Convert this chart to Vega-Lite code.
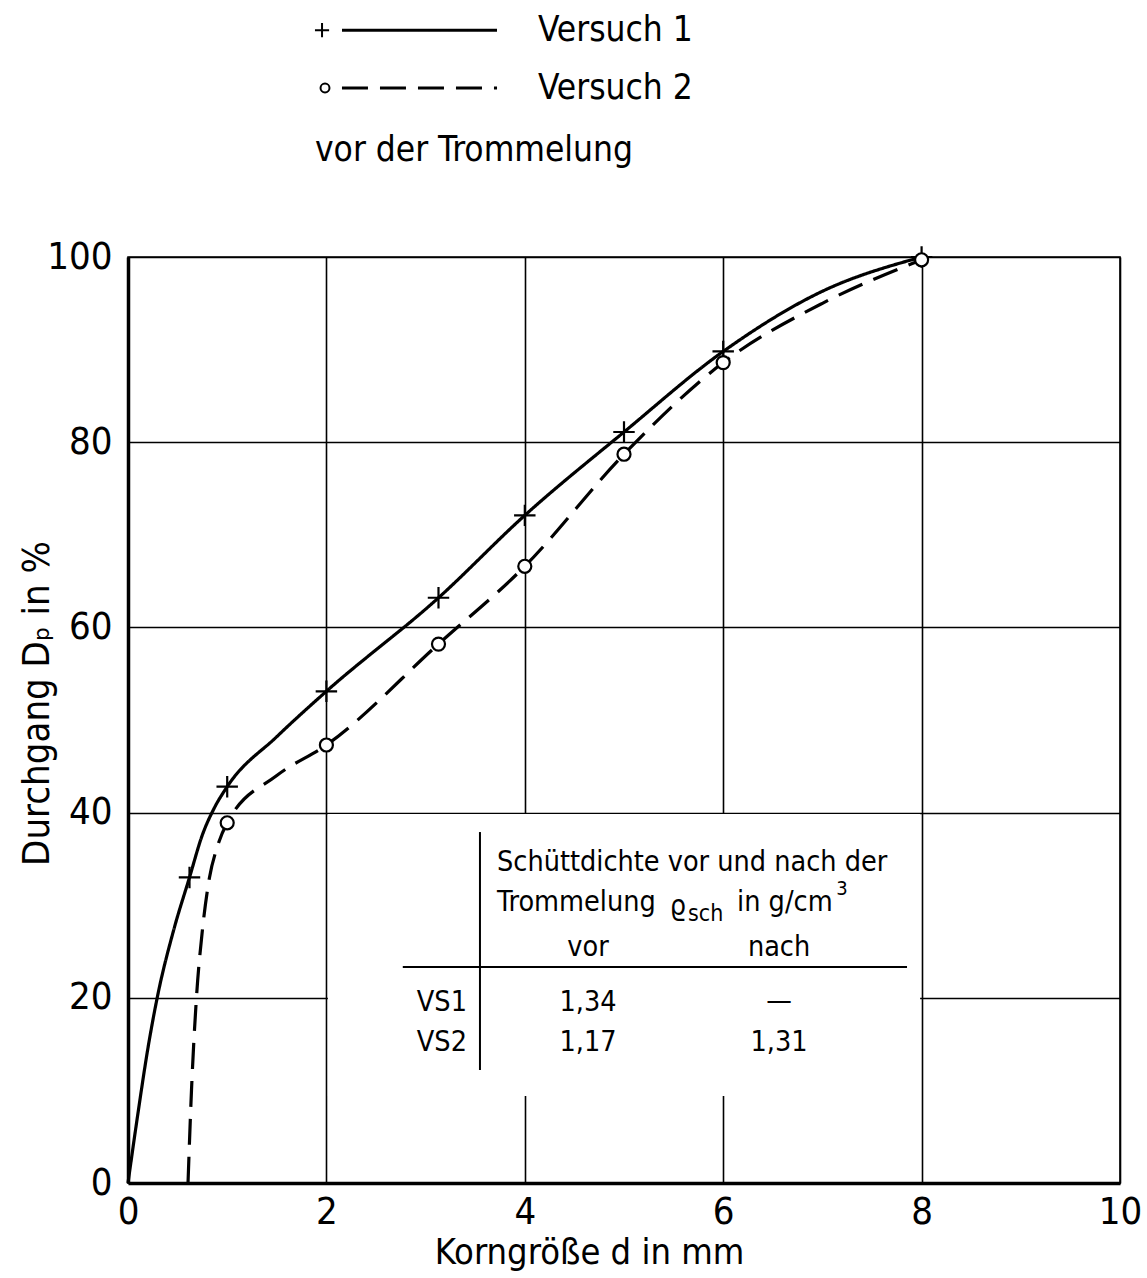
{
  "$schema": "https://vega.github.io/schema/vega-lite/v6.json",
  "width": 992,
  "height": 926,
  "autosize": {"type": "none"},
  "padding": {"left": 128, "top": 257, "right": 27, "bottom": 95},
  "background": "white",
  "config": {
    "view": {"stroke": "black", "strokeWidth": 1.6},
    "font": "DejaVu Sans Condensed, sans-serif",
    "axis": {
      "grid": true, "gridColor": "black", "gridWidth": 1.6, "gridOpacity": 1,
      "domain": true, "domainColor": "black", "domainWidth": 3.5,
      "ticks": false, "tickSize": 0,
      "labelFont": "DejaVu Sans Condensed, sans-serif",
      "labelFontSize": 38, "labelColor": "black", "labelFlush": false, "labelOverlap": false,
      "titleFont": "DejaVu Sans Condensed, sans-serif",
      "titleFontSize": 36, "titleFontWeight": "normal", "titleColor": "black"
    }
  },
  "datasets": {
    "curves": [
      {"s": "Versuch 1", "x": 0, "y": 0, "m": 0},
      {"s": "Versuch 1", "x": 0.1, "y": 7.5, "m": 0},
      {"s": "Versuch 1", "x": 0.2, "y": 14.5, "m": 0},
      {"s": "Versuch 1", "x": 0.3, "y": 20.3, "m": 0},
      {"s": "Versuch 1", "x": 0.46, "y": 27.3, "m": 0},
      {"s": "Versuch 1", "x": 0.62, "y": 33, "m": 1},
      {"s": "Versuch 1", "x": 0.75, "y": 37.6, "m": 0},
      {"s": "Versuch 1", "x": 0.87, "y": 40.5, "m": 0},
      {"s": "Versuch 1", "x": 1.0, "y": 42.8, "m": 1},
      {"s": "Versuch 1", "x": 1.5, "y": 48.2, "m": 0},
      {"s": "Versuch 1", "x": 2.0, "y": 53.1, "m": 1},
      {"s": "Versuch 1", "x": 3.13, "y": 63.2, "m": 1},
      {"s": "Versuch 1", "x": 4.0, "y": 72.1, "m": 1},
      {"s": "Versuch 1", "x": 5.0, "y": 81.1, "m": 1},
      {"s": "Versuch 1", "x": 6.0, "y": 89.8, "m": 1},
      {"s": "Versuch 1", "x": 7.0, "y": 96.3, "m": 0},
      {"s": "Versuch 1", "x": 8.0, "y": 100, "m": 1},
      {"s": "Versuch 2", "x": 0.605, "y": 0, "m": 0},
      {"s": "Versuch 2", "x": 0.64, "y": 10, "m": 0},
      {"s": "Versuch 2", "x": 0.69, "y": 20, "m": 0},
      {"s": "Versuch 2", "x": 0.75, "y": 27.3, "m": 0},
      {"s": "Versuch 2", "x": 0.82, "y": 32.9, "m": 0},
      {"s": "Versuch 2", "x": 0.9, "y": 36.3, "m": 0},
      {"s": "Versuch 2", "x": 1.0, "y": 38.9, "m": 1},
      {"s": "Versuch 2", "x": 1.5, "y": 44.0, "m": 0},
      {"s": "Versuch 2", "x": 2.0, "y": 47.3, "m": 1},
      {"s": "Versuch 2", "x": 3.13, "y": 58.2, "m": 1},
      {"s": "Versuch 2", "x": 4.0, "y": 66.6, "m": 1},
      {"s": "Versuch 2", "x": 5.0, "y": 78.7, "m": 1},
      {"s": "Versuch 2", "x": 6.0, "y": 88.6, "m": 1},
      {"s": "Versuch 2", "x": 7.0, "y": 95.0, "m": 0},
      {"s": "Versuch 2", "x": 8.0, "y": 99.7, "m": 1}
    ],
    "box": [{"x": 2.015, "x2": 7.985, "y": 9.4, "y2": 39.85}],
    "tablerules": [
      {"x": 3.548, "x2": 3.548, "y": 12.2, "y2": 37.9},
      {"x": 2.77, "x2": 7.853, "y": 23.33, "y2": 23.33}
    ],
    "tablecenter": [
      {"x": 4.637, "y": 25.49, "t": "vor"},
      {"x": 6.563, "y": 25.49, "t": "nach"},
      {"x": 4.637, "y": 19.55, "t": "1,34"},
      {"x": 6.563, "y": 19.7, "t": "—"},
      {"x": 4.637, "y": 15.23, "t": "1,17"},
      {"x": 6.563, "y": 15.23, "t": "1,31"}
    ],
    "tableleft": [
      {"x": 3.72, "y": 34.67, "t": "Schüttdichte vor und nach der"},
      {"x": 3.72, "y": 30.35, "t": "Trommelung"},
      {"x": 5.46, "y": 29.9, "t": "ϱ"},
      {"x": 6.14, "y": 30.35, "t": "in g/cm"}
    ],
    "tableright": [
      {"x": 3.417, "y": 19.55, "t": "VS1"},
      {"x": 3.417, "y": 15.23, "t": "VS2"}
    ],
    "tablesub": [{"x": 5.645, "y": 29.05, "t": "sch"}],
    "tablesup": [{"x": 7.14, "y": 31.75, "t": "3"}],
    "legendlines": [
      {"s": "Versuch 1", "x": 2.157, "x2": 3.72, "y": 124.5},
      {"s": "Versuch 2", "x": 2.157, "x2": 3.72, "y": 118.25}
    ],
    "legendplus": [{"x": 1.956, "y": 124.5}],
    "legendcircle": [{"x": 1.986, "y": 118.25}],
    "legendtext": [
      {"x": 4.133, "y": 124.5, "t": "Versuch 1"},
      {"x": 4.133, "y": 118.25, "t": "Versuch 2"},
      {"x": 1.885, "y": 111.55, "t": "vor der Trommelung"}
    ]
  },
  "encoding": {
    "x": {
      "field": "x", "type": "quantitative",
      "scale": {"domain": [0, 10], "nice": false, "zero": false},
      "axis": {
        "values": [0, 2, 4, 6, 8, 10], "title": "Korngröße d in mm",
        "labelPadding": 10, "titleX": 461, "titleY": 69,
        "titleBaseline": "middle", "titleAlign": "center"
      }
    },
    "y": {
      "field": "y", "type": "quantitative",
      "scale": {"domain": [0, 100], "nice": false, "zero": false},
      "axis": {
        "values": [0, 20, 40, 60, 80, 100], "title": "Durchgang Dₚ in %",
        "labelPadding": 16, "titleX": -91, "titleY": 446, "titleAngle": -90,
        "titleFontSize": 38,
        "titleBaseline": "middle", "titleAlign": "center"
      }
    }
  },
  "layer": [
    {
      "data": {"name": "box"},
      "mark": {"type": "rect", "fill": "white", "stroke": null},
      "encoding": {"x2": {"field": "x2"}, "y2": {"field": "y2"}}
    },
    {
      "data": {"name": "tablerules"},
      "mark": {"type": "rule", "color": "black", "strokeWidth": 2},
      "encoding": {"x2": {"field": "x2"}, "y2": {"field": "y2"}}
    },
    {
      "data": {"name": "tablecenter"},
      "mark": {"type": "text", "align": "center", "baseline": "middle", "fontSize": 28.5, "color": "black"},
      "encoding": {"text": {"field": "t"}}
    },
    {
      "data": {"name": "tableleft"},
      "mark": {"type": "text", "align": "left", "baseline": "middle", "fontSize": 28.5, "color": "black"},
      "encoding": {"text": {"field": "t"}}
    },
    {
      "data": {"name": "tableright"},
      "mark": {"type": "text", "align": "right", "baseline": "middle", "fontSize": 28.5, "color": "black"},
      "encoding": {"text": {"field": "t"}}
    },
    {
      "data": {"name": "tablesub"},
      "mark": {"type": "text", "align": "left", "baseline": "middle", "fontSize": 23, "color": "black"},
      "encoding": {"text": {"field": "t"}}
    },
    {
      "data": {"name": "tablesup"},
      "mark": {"type": "text", "align": "left", "baseline": "middle", "fontSize": 20, "color": "black"},
      "encoding": {"text": {"field": "t"}}
    },
    {
      "data": {"name": "curves"},
      "mark": {"type": "line", "interpolate": "monotone", "color": "black", "strokeWidth": 3.2},
      "encoding": {
        "detail": {"field": "s"},
        "strokeDash": {"field": "s", "type": "nominal", "scale": {"domain": ["Versuch 1", "Versuch 2"], "range": [[1, 0], [26, 12]]}, "legend": null}
      }
    },
    {
      "data": {"name": "curves"},
      "transform": [{"filter": "datum.m == 1 && datum.s == 'Versuch 1'"}],
      "mark": {"type": "point", "shape": "M-1,0L1,0M0,-1L0,1", "filled": false, "stroke": "black", "strokeWidth": 2.2, "size": 460, "opacity": 1}
    },
    {
      "data": {"name": "curves"},
      "transform": [{"filter": "datum.m == 1 && datum.s == 'Versuch 2'"}],
      "mark": {"type": "point", "shape": "circle", "filled": true, "fill": "white", "stroke": "black", "strokeWidth": 2.2, "size": 170, "opacity": 1, "fillOpacity": 1}
    },
    {
      "data": {"name": "legendlines"},
      "mark": {"type": "rule", "color": "black", "strokeWidth": 3},
      "encoding": {
        "x2": {"field": "x2"},
        "strokeDash": {"field": "s", "type": "nominal", "scale": {"domain": ["Versuch 1", "Versuch 2"], "range": [[1, 0], [30, 14]]}, "legend": null}
      }
    },
    {
      "data": {"name": "legendplus"},
      "mark": {"type": "point", "shape": "M-1,0L1,0M0,-1L0,1", "filled": false, "stroke": "black", "strokeWidth": 2, "size": 200, "opacity": 1}
    },
    {
      "data": {"name": "legendcircle"},
      "mark": {"type": "point", "shape": "circle", "filled": false, "stroke": "black", "strokeWidth": 2, "size": 80, "opacity": 1}
    },
    {
      "data": {"name": "legendtext"},
      "mark": {"type": "text", "align": "left", "baseline": "middle", "fontSize": 35, "color": "black"},
      "encoding": {"text": {"field": "t"}}
    }
  ]
}
